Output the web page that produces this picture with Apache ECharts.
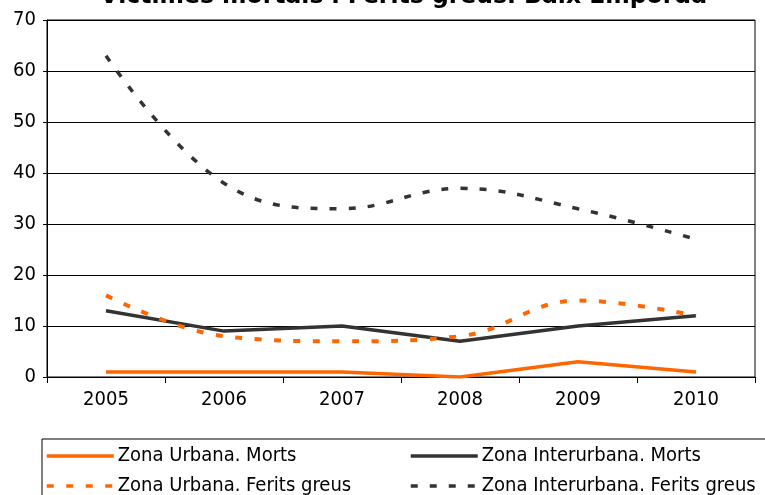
<!DOCTYPE html>
<html>
<head>
<meta charset="utf-8">
<script src="https://cdn.jsdelivr.net/npm/echarts@6/dist/echarts.min.js"></script>
<style>
  html, body { margin: 0; padding: 0; background: #fff; }
  #grafic { width: 765px; height: 495px; }
</style>
</head>
<body>
<div id="grafic"></div>
<script>
// Dades del gràfic
const anys = ['2005', '2006', '2007', '2008', '2009', '2010'];
const urbanaMorts = [1, 1, 1, 0, 3, 1];
const interurbanaMorts = [13, 9, 10, 7, 10, 12];
const urbanaFerits = [16, 8, 7, 8, 15, 12];
const interurbanaFerits = [63, 38, 33, 37, 33, 27];

const font = 'DejaVu Sans Condensed, DejaVu Sans, sans-serif';
const taronja = '#FF6600';
const fosc = '#333333';

const chart = echarts.init(document.getElementById('grafic'));

// Llegenda: una per cada element per alinear les columnes
const llegenda = (nom, left, top) => ({
  data: [nom],
  left: left,
  top: top,
  itemWidth: 67,
  itemHeight: 14,
  itemGap: 0,
  padding: 0,
  itemStyle: { color: 'rgba(0,0,0,0)', borderWidth: 0 },
  lineStyle: { width: 3.5 },
  textStyle: { fontFamily: font, fontSize: 20, color: '#000', padding: [0, 0, 0, -1] },
});

const option = {
  backgroundColor: '#fff',
  animation: false,
  title: {
    text: 'Víctimes mortals i Ferits greus. Baix Empordà',
    left: 95,
    top: -20,
    textStyle: { fontFamily: 'DejaVu Sans, sans-serif', fontSize: 23.5, fontWeight: 'bold', color: '#000' },
  },
  grid: {
    left: 47,
    right: 10,
    top: 20,
    bottom: 118,
    show: true,
    borderColor: '#000',
    borderWidth: 1,
  },
  legend: [
    llegenda('Zona Urbana. Morts', 45, 446),
    llegenda('Zona Interurbana. Morts', 409, 446),
    llegenda('Zona Urbana. Ferits greus', 45, 476),
    llegenda('Zona Interurbana. Ferits greus', 409, 476),
  ],
  graphic: [
    {
      type: 'rect',
      shape: { x: 42, y: 439, width: 740, height: 70 },
      style: { fill: 'none', stroke: '#000', lineWidth: 1 },
    },
  ],
  xAxis: {
    type: 'category',
    data: anys,
    boundaryGap: true,
    axisLine: { lineStyle: { color: '#000', width: 1 } },
    axisTick: { show: true, length: 6, inside: false, lineStyle: { color: '#000' } },
    axisLabel: { color: '#000', fontFamily: font, fontSize: 20, margin: 13 },
  },
  yAxis: {
    type: 'value',
    min: 0,
    max: 70,
    interval: 10,
    axisLine: { show: true, lineStyle: { color: '#000', width: 1 } },
    axisTick: { show: true, length: 4, lineStyle: { color: '#000' } },
    axisLabel: { color: '#000', fontFamily: font, fontSize: 20, margin: 11 },
    splitLine: { show: true, lineStyle: { color: '#000', width: 1 } },
  },
  series: [
    {
      name: 'Zona Urbana. Morts',
      type: 'line',
      data: urbanaMorts,
      symbol: 'none',
      lineStyle: { color: taronja, width: 3.5 },
      itemStyle: { color: taronja },
    },
    {
      name: 'Zona Interurbana. Morts',
      type: 'line',
      data: interurbanaMorts,
      symbol: 'none',
      lineStyle: { color: fosc, width: 3.5 },
      itemStyle: { color: fosc },
    },
    {
      name: 'Zona Urbana. Ferits greus',
      type: 'line',
      data: urbanaFerits,
      symbol: 'none',
      smooth: 0.4,
      lineStyle: { color: taronja, width: 4, type: [7, 12.5] },
      itemStyle: { color: taronja },
    },
    {
      name: 'Zona Interurbana. Ferits greus',
      type: 'line',
      data: interurbanaFerits,
      symbol: 'none',
      smooth: 0.4,
      lineStyle: { color: fosc, width: 3.5, type: [7, 12] },
      itemStyle: { color: fosc },
    },
  ],
};

chart.setOption(option);
</script>
</body>
</html>
